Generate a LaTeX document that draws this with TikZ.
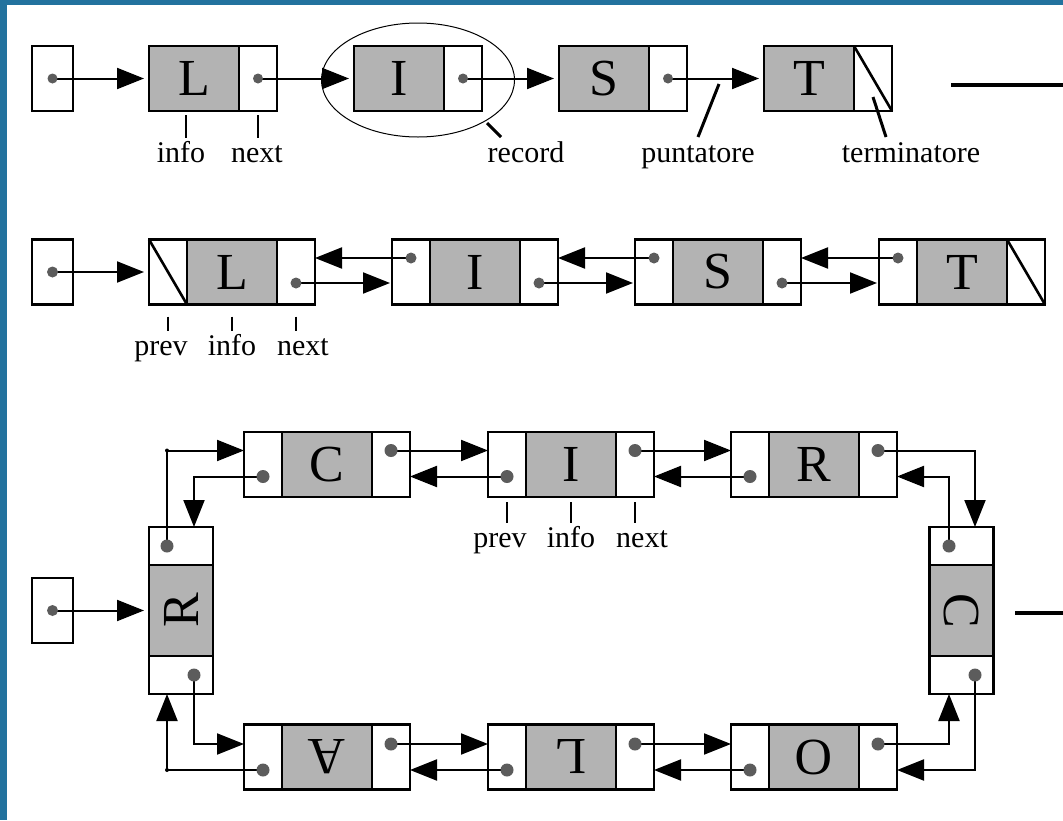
\documentclass[tikz,border=0pt]{standalone}
\usepackage{fontspec}
\setmainfont{Liberation Serif}
\usetikzlibrary{positioning,arrows.meta,shapes.geometric}
\definecolor{slideblue}{RGB}{34,114,158}
\definecolor{infogray}{RGB}{179,179,179}
\definecolor{dotgray}{RGB}{92,92,92}
\tikzset{
	cell/.style={draw=black, line width=2.6pt, inner sep=0pt, outer sep=0pt},
	infocell/.style={cell, fill=infogray, minimum width=90pt, minimum height=65pt, font=\fontsize{52}{52}\selectfont},
	ptrcell/.style={cell, fill=white, minimum width=38pt, minimum height=65pt},
	vinfocell/.style={cell, fill=infogray, minimum width=64pt, minimum height=91pt, font=\fontsize{52}{52}\selectfont},
	vptrcell/.style={cell, fill=white, minimum width=64pt, minimum height=38pt},
	headcell/.style={cell, fill=white, minimum width=41pt, minimum height=65pt},
	arr/.style={line width=2pt, -{Triangle[length=27pt,width=21pt]}},
	nil/.style={line width=2.6pt},
	tick/.style={line width=2pt},
	callout/.style={line width=3pt},
	cut/.style={line width=4pt},
	lbl/.style={font=\fontsize{30}{30}\selectfont, inner sep=0pt, text height=20pt, text depth=6pt, anchor=base}
}
\newcommand{\infobox}{\node[infocell]}
\newcommand{\ptrbox}{\node[ptrcell]}
\newcommand{\vinfobox}{\node[vinfocell]}
\newcommand{\vptrbox}{\node[vptrcell]}
\newcommand{\headbox}{\node[headcell]}

\begin{document}
\begin{tikzpicture}[x=1pt,y=-1pt]
	\fill[slideblue] (0,0) rectangle (1063,5);
	\fill[slideblue] (0,0) rectangle (7,820);
	\useasboundingbox (0,0) rectangle (1063,820);

	\headbox (h1) at (52.5,78.5) {};
	\infobox (s1) at (194,78.5) {L};
	\ptrbox[right=0pt of s1] (s1n) {};
	\infobox (s2) at (399,78.5) {I};
	\ptrbox[right=0pt of s2] (s2n) {};
	\infobox (s3) at (604,78.5) {S};
	\ptrbox[right=0pt of s3] (s3n) {};
	\infobox (s4) at (809,78.5) {T};
	\ptrbox[right=0pt of s4] (s4n) {};
	\draw[nil] (s4n.north west) -- (s4n.south east);
	\path[arr, shorten >=5pt] (h1.center) edge (s1.west) (s1n.center) edge (s2.west)
		(s2n.center) edge (s3.west) (s3n.center) edge (s4.west);
	\fill[dotgray] (h1.center) circle (5pt) (s1n.center) circle (5pt) (s2n.center) circle (5pt) (s3n.center) circle (5pt);
	\node[draw, ellipse, line width=1pt, minimum width=193pt, minimum height=114pt, inner sep=0pt] (rec) at (418,80) {};

	\node[lbl] (ti1) at (181,162) {info};
	\node[lbl] (tn1) at (257,162) {next};
	\node[lbl] (tr1) at (526,162) {record};
	\node[lbl] (tp1) at (698,162) {puntatore};
	\node[lbl] (tt1) at (911,162) {terminatore};
	\path[tick, shorten <=4pt, shorten >=4pt] ([xshift=-8pt]s1.south) edge ([xshift=-8pt]s1.south |- ti1.north)
		(s1n.south) edge (s1n.south |- tn1.north);
	\coordinate (recA) at (487,123);
	\coordinate (recB) at (501,137);
	\coordinate (punA) at (719,84);
	\coordinate (punB) at (698,137);
	\coordinate (terA) at (873,97);
	\coordinate (terB) at (886,137);
	\draw[callout] (recA) -- (recB) (punA) -- (punB) (terA) -- (terB);
	\coordinate (cut1) at (951,85);
	\coordinate (cut1e) at (1063,85);
	\draw[cut] (cut1) -- (cut1e);

	\headbox (h2) at (52.5,272) {};
	\infobox (d1) at (232,272) {L};
	\ptrbox[left=0pt of d1] (d1p) {};
	\ptrbox[right=0pt of d1] (d1n) {};
	\infobox (d2) at (475,272) {I};
	\ptrbox[left=0pt of d2] (d2p) {};
	\ptrbox[right=0pt of d2] (d2n) {};
	\infobox (d3) at (718,272) {S};
	\ptrbox[left=0pt of d3] (d3p) {};
	\ptrbox[right=0pt of d3] (d3n) {};
	\infobox (d4) at (962,272) {T};
	\ptrbox[left=0pt of d4] (d4p) {};
	\ptrbox[right=0pt of d4] (d4n) {};
	\draw[nil] (d1p.north west) -- (d1p.south east) (d4n.north west) -- (d4n.south east);
	\coordinate (d1f) at ([yshift=-11pt]d1n.center);
	\coordinate (d2f) at ([yshift=-11pt]d2n.center);
	\coordinate (d3f) at ([yshift=-11pt]d3n.center);
	\coordinate (d2b) at ([yshift=14pt]d2p.center);
	\coordinate (d3b) at ([yshift=14pt]d3p.center);
	\coordinate (d4b) at ([yshift=14pt]d4p.center);
	\path[arr, shorten >=5pt] (h2.center) edge (d1p.west);
	\path[arr, shorten >=2pt] (d1f) edge (d1f -| d2p.west) (d2f) edge (d2f -| d3p.west) (d3f) edge (d3f -| d4p.west);
	\path[arr] (d2b) edge (d2b -| d1n.east) (d3b) edge (d3b -| d2n.east) (d4b) edge (d4b -| d3n.east);
	\fill[dotgray] (h2.center) circle (5.5pt) (d1f) circle (5.5pt) (d2f) circle (5.5pt) (d3f) circle (5.5pt)
		(d2b) circle (5.5pt) (d3b) circle (5.5pt) (d4b) circle (5.5pt);
	\node[lbl] (tp2) at (161,355) {prev};
	\node[lbl] (ti2) at (232,355) {info};
	\node[lbl] (tn2) at (303,355) {next};
	\path[tick, shorten <=12pt, shorten >=4pt] (d1p.south) edge (d1p.south |- tp2.north)
		(d1.south) edge (d1.south |- ti2.north) (d1n.south) edge (d1n.south |- tn2.north);

	\headbox (h3) at (52.5,610.5) {};
	\vinfobox (cl) at (181,610.5) {\rotatebox{90}{R}};
	\vptrbox[above=0pt of cl] (clt) {};
	\vptrbox[below=0pt of cl] (clb) {};
	\infobox (c1) at (327,464.5) {C};
	\ptrbox[left=0pt of c1] (c1p) {};
	\ptrbox[right=0pt of c1] (c1n) {};
	\infobox (c2) at (571,464.5) {I};
	\ptrbox[left=0pt of c2] (c2p) {};
	\ptrbox[right=0pt of c2] (c2n) {};
	\infobox (c3) at (814,464.5) {R};
	\ptrbox[left=0pt of c3] (c3p) {};
	\ptrbox[right=0pt of c3] (c3n) {};
	\vinfobox (cr) at (961.5,610.5) {\rotatebox{-90}{C}};
	\vptrbox[above=0pt of cr] (crt) {};
	\vptrbox[below=0pt of cr] (crb) {};
	\infobox (c4) at (814,757) {\rotatebox{180}{O}};
	\ptrbox[left=0pt of c4] (c4p) {};
	\ptrbox[right=0pt of c4] (c4n) {};
	\infobox (c5) at (571,757) {\rotatebox{180}{L}};
	\ptrbox[left=0pt of c5] (c5p) {};
	\ptrbox[right=0pt of c5] (c5n) {};
	\infobox (c6) at (327,757) {\rotatebox{180}{A}};
	\ptrbox[left=0pt of c6] (c6p) {};
	\ptrbox[right=0pt of c6] (c6n) {};

	\coordinate (cltd) at ([xshift=-14pt]clt.center);
	\coordinate (clbd) at ([xshift=13pt]clb.center);
	\coordinate (crtd) at ([xshift=-12.5pt]crt.center);
	\coordinate (crbd) at ([xshift=13.5pt]crb.center);
	\coordinate (c1f) at ([yshift=14pt]c1n.center);
	\coordinate (c2f) at ([yshift=14pt]c2n.center);
	\coordinate (c3f) at ([yshift=14pt]c3n.center);
	\coordinate (c1b) at ([yshift=-12pt]c1p.center);
	\coordinate (c2b) at ([yshift=-12pt]c2p.center);
	\coordinate (c3b) at ([yshift=-12pt]c3p.center);
	\coordinate (c4f) at ([yshift=13pt]c4n.center);
	\coordinate (c5f) at ([yshift=13pt]c5n.center);
	\coordinate (c6f) at ([yshift=13pt]c6n.center);
	\coordinate (c4b) at ([yshift=-13pt]c4p.center);
	\coordinate (c5b) at ([yshift=-13pt]c5p.center);
	\coordinate (c6b) at ([yshift=-13pt]c6p.center);

	\path[arr, shorten >=5pt] (h3.center) edge (cl.west);
	\path[arr] (c1f) edge (c1f -| c2p.west) (c2f) edge (c2f -| c3p.west)
		(c2b) edge (c2b -| c1n.east) (c3b) edge (c3b -| c2n.east);
	\path[arr] (c6f) edge (c6f -| c5p.west) (c5f) edge (c5f -| c4p.west)
		(c5b) edge (c5b -| c6n.east) (c4b) edge (c4b -| c5n.east);
	\draw[arr] (cltd) |- (c1f -| c1p.west);
	\draw[arr] (c1b) -| (clbd |- clt.north);
	\draw[arr] (clbd) |- (c6f -| c6p.west);
	\draw[arr] (c6b) -| (cltd |- clb.south);
	\draw[arr] (c3f) -| (crbd |- crt.north);
	\draw[arr] (crtd) |- (c3b -| c3n.east);
	\draw[arr] (crbd) |- (c4b -| c4n.east);
	\draw[arr] (c4f) -| (crtd |- crb.south);
	\fill (cltd |- c1f) circle (2pt) (cltd |- c6b) circle (2pt);
	\fill[dotgray] (h3.center) circle (5.5pt);
	\fill[dotgray] (cltd) circle (6.5pt) (clbd) circle (6.5pt) (crtd) circle (6.5pt) (crbd) circle (6.5pt)
		(c1f) circle (6.5pt) (c2f) circle (6.5pt) (c3f) circle (6.5pt) (c1b) circle (6.5pt) (c2b) circle (6.5pt) (c3b) circle (6.5pt)
		(c4f) circle (6.5pt) (c5f) circle (6.5pt) (c6f) circle (6.5pt) (c4b) circle (6.5pt) (c5b) circle (6.5pt) (c6b) circle (6.5pt);
	\node[lbl] (tp3) at (500,547) {prev};
	\node[lbl] (ti3) at (571,547) {info};
	\node[lbl] (tn3) at (642,547) {next};
	\path[tick, shorten <=5pt, shorten >=4pt] (c2p.south) edge (c2p.south |- tp3.north)
		(c2.south) edge (c2.south |- ti3.north) (c2n.south) edge (c2n.south |- tn3.north);
	\coordinate (cut2) at (1015,613);
	\coordinate (cut2e) at (1063,613);
	\draw[cut] (cut2) -- (cut2e);
\end{tikzpicture}
\end{document}
